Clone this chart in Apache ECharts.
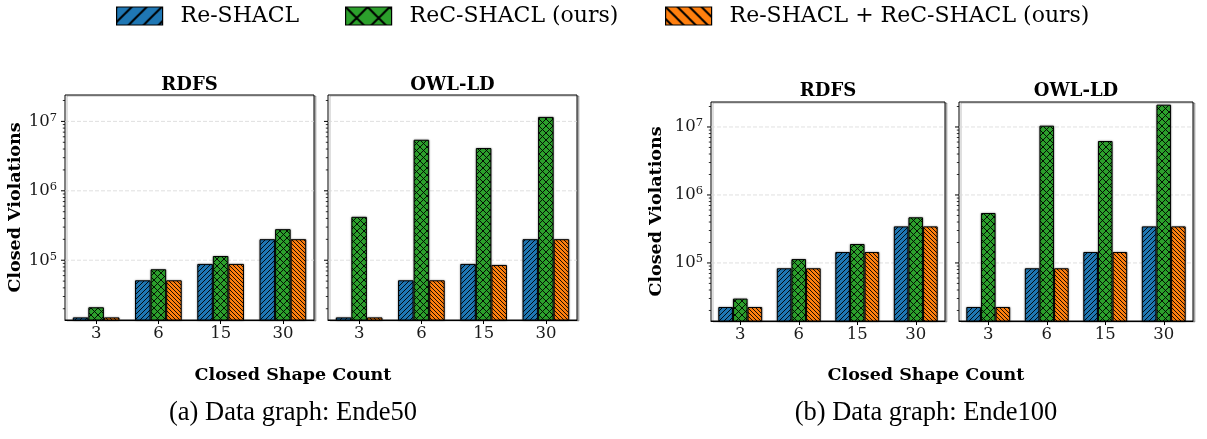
<!DOCTYPE html>
<html>
<head>
<meta charset="utf-8">
<script src="https://cdn.jsdelivr.net/npm/echarts@6/dist/echarts.min.js"></script>
<style>
html,body{margin:0;padding:0;background:#fff;}
#c{width:1207px;height:439px;}
</style>
</head>
<body>
<div id="c"></div>
<script>
// ---------------- DATA ----------------
const categories = ['3', '6', '15', '30'];
const seriesNames = ['Re-SHACL', 'ReC-SHACL (ours)', 'Re-SHACL + ReC-SHACL (ours)'];
const panelTitles = ['RDFS', 'OWL-LD', 'RDFS', 'OWL-LD'];
const captions = ['(a) Data graph: Ende50', '(b) Data graph: Ende100'];
const xLabel = 'Closed Shape Count';
const yLabel = 'Closed Violations';

// Ende50 - RDFS
const a_rdfs_re   = [15000, 51400, 88500, 201000];
const a_rdfs_rec  = [21000, 74100, 115000, 280000];
const a_rdfs_both = [15000, 51400, 88500, 201000];
// Ende50 - OWL-LD
const a_owl_re    = [15000, 51400, 88500, 201000];
const a_owl_rec   = [422000, 5440000, 4130000, 11600000];
const a_owl_both  = [15000, 51400, 85500, 201000];
// Ende100 - RDFS
const b_rdfs_re   = [22500, 83500, 145000, 345000];
const b_rdfs_rec  = [29900, 114000, 190000, 469000];
const b_rdfs_both = [22500, 83500, 145000, 345000];
// Ende100 - OWL-LD
const b_owl_re    = [22500, 83500, 145000, 345000];
const b_owl_rec   = [543000, 10450000, 6220000, 21300000];
const b_owl_both  = [22500, 83500, 145000, 345000];

// y-axis ranges and ticks
const yRangeA = [13770, 24000000];
const yRangeB = [14000, 23300000];
const majorTicks = [1e5, 1e6, 1e7];
const minorTicks = [2e4,3e4,4e4,5e4,6e4,7e4,8e4,9e4,
                    2e5,3e5,4e5,5e5,6e5,7e5,8e5,9e5,
                    2e6,3e6,4e6,5e6,6e6,7e6,8e6,9e6,
                    2e7];

// ---------------- STYLE ----------------
const COLORS = ['#1f77b4', '#2ca02c', '#ff7f0e'];
const SERIF = '"DejaVu Serif", serif';

function hatch(bg, s, kind, lw) {
  const c = document.createElement('canvas');
  c.width = s; c.height = s;
  const g = c.getContext('2d');
  g.fillStyle = bg; g.fillRect(0, 0, s, s);
  g.strokeStyle = '#000'; g.lineWidth = lw; g.lineCap = 'square';
  const seg = (x1, y1, x2, y2) => { g.beginPath(); g.moveTo(x1, y1); g.lineTo(x2, y2); g.stroke(); };
  if (kind === '/' || kind === 'x') {
    seg(-1, s + 1, s + 1, -1);
    seg(-2, 2, 2, -2);
    seg(s - 2, s + 2, s + 2, s - 2);
  }
  if (kind === '\\' || kind === 'x') {
    seg(-1, -1, s + 1, s + 1);
    seg(s - 2, -2, s + 2, 2);
    seg(-2, s - 2, 2, s + 2);
  }
  return { image: c, repeat: 'repeat' };
}
const barPatterns = [hatch(COLORS[0], 5, '/', 0.9), hatch(COLORS[1], 7, 'x', 0.9), hatch(COLORS[2], 4, '\\', 0.9)];
const legPatterns = [hatch(COLORS[0], 15, '/', 2), hatch(COLORS[1], 22, 'x', 2), hatch(COLORS[2], 12, '\\', 2)];

const grids = [
  { left: 65,  top: 95,  width: 249, height: 225 },
  { left: 328, top: 95,  width: 249, height: 225 },
  { left: 711, top: 102, width: 234, height: 219 },
  { left: 959, top: 102, width: 234, height: 219 }
];
const panelData = [
  [a_rdfs_re, a_rdfs_rec, a_rdfs_both],
  [a_owl_re, a_owl_rec, a_owl_both],
  [b_rdfs_re, b_rdfs_rec, b_rdfs_both],
  [b_owl_re, b_owl_rec, b_owl_both]
];
const ranges = [yRangeA, yRangeA, yRangeB, yRangeB];

const option = {
  animation: false,
  backgroundColor: '#fff',
  legend: seriesNames.map((n, i) => ({
    left: [116, 345, 665][i], top: 5, padding: 0,
    itemWidth: 46, itemHeight: 18, icon: 'rect',
    selectedMode: false,
    data: [{ name: n, itemStyle: { color: legPatterns[i], borderColor: '#000', borderWidth: 1.2, shadowBlur: 0 } }],
    textStyle: { fontFamily: SERIF, fontSize: 22, color: '#000', padding: [0, 0, 0, 13] }
  })),
  grid: grids.map(g => Object.assign({
    show: true, borderColor: '#000', borderWidth: 1, backgroundColor: '#fff',
    shadowColor: 'rgba(0,0,0,0.25)', shadowOffsetX: 2, shadowOffsetY: 1, shadowBlur: 0
  }, g)),
  xAxis: grids.map((g, i) => ({
    type: 'category', gridIndex: i, data: categories, z: 10,
    axisLine: { show: true, lineStyle: { color: '#000', width: 1 } },
    axisTick: { show: true, alignWithLabel: true, length: 4, lineStyle: { color: '#000' } },
    axisLabel: { fontFamily: SERIF, fontSize: 16.5, color: '#1a1a1a', margin: 5 },
    splitLine: { show: false }
  })),
  yAxis: grids.map((g, i) => ({
    type: 'log', logBase: 10, gridIndex: i, min: ranges[i][0], max: ranges[i][1],
    axisLine: { show: false }, axisTick: { show: false }, splitLine: { show: false },
    name: (i % 2 === 0) ? yLabel : '', nameLocation: 'middle', nameRotate: 90,
    nameGap: (i === 0) ? 33 : 46,
    nameTextStyle: { fontFamily: SERIF, fontSize: 17.5, fontWeight: 'bold', color: '#000' },
    axisLabel: {
      show: i % 2 === 0, margin: 8, color: '#1a1a1a',
      showMinLabel: false, showMaxLabel: false,
      formatter: function (v) {
        const e = Math.log10(v);
        if (Math.abs(e - Math.round(e)) > 1e-4) return '';
        return '{b|10}{s|' + Math.round(e) + '}';
      },
      rich: {
        b: { fontFamily: SERIF, fontSize: 16.5, color: '#1a1a1a' },
        s: { fontFamily: SERIF, fontSize: 11.5, color: '#1a1a1a', verticalAlign: 'top', padding: [0, 0, 7, 0] }
      }
    }
  })),
  graphic: [],
  series: []
};

// bars
panelData.forEach((sets, gi) => {
  sets.forEach((vals, si) => {
    option.series.push({
      type: 'bar', name: seriesNames[si], xAxisIndex: gi, yAxisIndex: gi,
      data: vals, barGap: '0%', barCategoryGap: '25%', z: 3,
      itemStyle: { color: barPatterns[si], borderColor: '#000', borderWidth: 1,
                   shadowColor: 'rgba(0,0,0,0.35)', shadowBlur: 2 },
      emphasis: { disabled: true }
    });
  });
  // ticks and dashed grid lines drawn through the axis scale
  const tickData = majorTicks.map(v => [0, v, 1]).concat(minorTicks.map(v => [0, v, 0]));
  option.series.push({
    type: 'custom', xAxisIndex: gi, yAxisIndex: gi, silent: true, z: 1,
    data: tickData, encode: { x: 0, y: 1 },
    renderItem: function (params, api) {
      const p = api.coord([0, api.value(1)]);
      const cs = params.coordSys;
      const major = api.value(2) === 1;
      const ch = [{
        type: 'line',
        shape: { x1: cs.x, y1: p[1], x2: cs.x - (major ? 4 : 2.2), y2: p[1] },
        style: { stroke: '#000', lineWidth: major ? 1 : 0.8 }
      }];
      if (major) {
        ch.push({
          type: 'line',
          shape: { x1: cs.x, y1: p[1], x2: cs.x + cs.width, y2: p[1] },
          style: { stroke: '#d8d8d8', lineWidth: 0.8, lineDash: [4, 2] }
        });
      }
      return { type: 'group', children: ch };
    }
  });
});

// panel titles
grids.forEach((g, i) => {
  option.graphic.push({
    type: 'text', silent: true,
    style: { x: g.left + g.width / 2, y: i < 2 ? 85 : 91, text: panelTitles[i],
             align: 'center', verticalAlign: 'middle',
             fontFamily: SERIF, fontSize: 18, fontWeight: 'bold', fill: '#000' }
  });
});
// x labels and captions
[[293, 0], [926, 1]].forEach(([cx, k]) => {
  option.graphic.push({
    type: 'text', silent: true,
    style: { x: cx, y: 375, text: xLabel, align: 'center', verticalAlign: 'middle',
             fontFamily: SERIF, fontSize: 17.5, fontWeight: 'bold', fill: '#000' }
  });
  option.graphic.push({
    type: 'text', silent: true,
    style: { x: cx, y: 413, text: captions[k], align: 'center', verticalAlign: 'middle',
             fontFamily: '"Liberation Serif", serif', fontSize: 26.5, fill: '#000' }
  });
});

const chart = echarts.init(document.getElementById('c'), null, { renderer: 'canvas' });
chart.setOption(option);
</script>
</body>
</html>
